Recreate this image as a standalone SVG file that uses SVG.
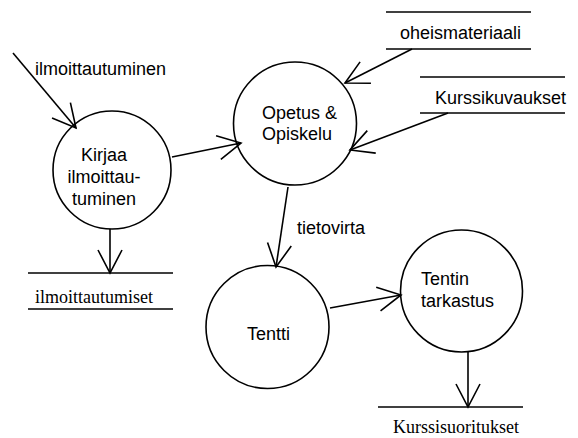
<svg xmlns="http://www.w3.org/2000/svg" width="578" height="438" viewBox="0 0 578 438">
  <style>
    .proc { fill: none; stroke: #000; stroke-width: 1.6; }
    .store { stroke: #000; stroke-width: 1.6; }
    .flow { fill: none; stroke: #000; stroke-width: 1.6; marker-end: url(#open); }
    .sans { font-family: "Liberation Sans", Arial, sans-serif; font-size: 18px; fill: #000; }
    .serif { font-family: "Liberation Serif", "Times New Roman", serif; font-size: 18px; fill: #000; }
  </style>
  <defs>
    <marker id="open" markerUnits="userSpaceOnUse" viewBox="-26 -14 28 28" markerWidth="28" markerHeight="28" refX="0" refY="0" orient="auto" overflow="visible">
      <path d="M -23 -12 L 0 0 L -23 12" fill="none" stroke="#000" stroke-width="1.6"/>
    </marker>
  </defs>
  <rect width="578" height="438" fill="#fff"/>

  <!-- processes -->
  <g id="kirjaa">
    <circle class="proc" cx="112" cy="170" r="59"/>
    <text class="sans" x="104" y="161" text-anchor="middle">Kirjaa</text>
    <text class="sans" x="104" y="183" text-anchor="middle">ilmoittau-</text>
    <text class="sans" x="104" y="205" text-anchor="middle">tuminen</text>
  </g>
  <g id="opetus">
    <circle class="proc" cx="295" cy="123.5" r="61.5"/>
    <text class="sans" x="262" y="119">Opetus &amp;</text>
    <text class="sans" x="262" y="140">Opiskelu</text>
  </g>
  <g id="tentti">
    <circle class="proc" cx="267.5" cy="327" r="61.5"/>
    <text class="sans" x="247" y="340">Tentti</text>
  </g>
  <g id="tarkastus">
    <circle class="proc" cx="461.5" cy="291" r="61"/>
    <text class="sans" x="421" y="285">Tentin</text>
    <text class="sans" x="421" y="307">tarkastus</text>
  </g>

  <!-- data stores -->
  <g id="oheismateriaali">
    <line class="store" x1="386" y1="12" x2="531" y2="12"/>
    <line class="store" x1="386" y1="49" x2="531" y2="49"/>
    <text class="sans" x="400" y="39">oheismateriaali</text>
  </g>
  <g id="kurssikuvaukset">
    <line class="store" x1="420" y1="77" x2="565" y2="77"/>
    <line class="store" x1="420" y1="113" x2="565" y2="113"/>
    <text class="sans" x="435" y="104">Kurssikuvaukset</text>
  </g>
  <g id="ilmoittautumiset">
    <line class="store" x1="28" y1="273" x2="173" y2="273"/>
    <line class="store" x1="28" y1="309" x2="173" y2="309"/>
    <text class="serif" x="35" y="303">ilmoittautumiset</text>
  </g>
  <g id="kurssisuoritukset">
    <line class="store" x1="378" y1="407" x2="523" y2="407"/>
    <text class="serif" x="393" y="433">Kurssisuoritukset</text>
  </g>

  <!-- data flows -->
  <g id="flows">
    <line class="flow" x1="13" y1="53" x2="76" y2="128"/>
    <text class="sans" x="35" y="75">ilmoittautuminen</text>
    <line class="flow" x1="172" y1="157" x2="241" y2="143"/>
    <line class="flow" x1="412" y1="49" x2="345" y2="83"/>
    <line class="flow" x1="448" y1="113" x2="350" y2="150"/>
    <line class="flow" x1="288" y1="187" x2="276" y2="267"/>
    <text class="sans" x="297" y="234">tietovirta</text>
    <line class="flow" x1="330" y1="308" x2="401" y2="295"/>
    <line class="flow" x1="110" y1="229" x2="110" y2="273"/>
    <line class="flow" x1="468" y1="351" x2="468" y2="407"/>
  </g>
</svg>
